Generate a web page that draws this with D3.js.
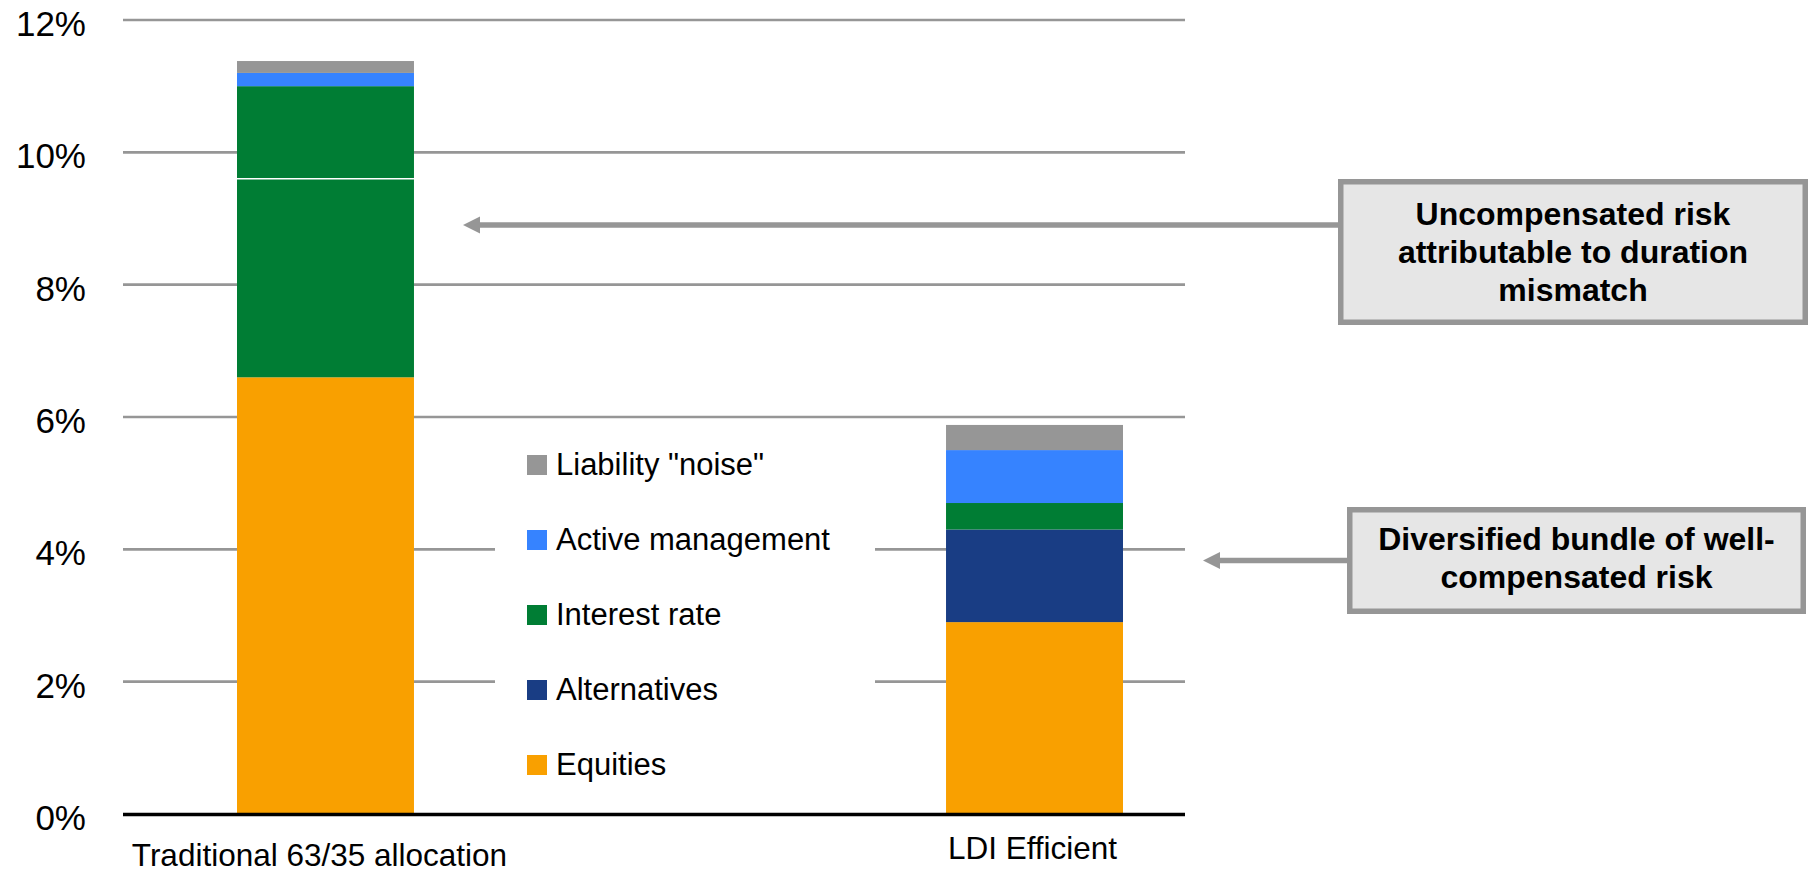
<!DOCTYPE html>
<html>
<head>
<meta charset="utf-8">
<script src="https://cdn.jsdelivr.net/npm/d3@7/dist/d3.min.js"></script>
<style>
  html, body { margin: 0; padding: 0; background: #ffffff; }
  svg { display: block; }
  text { font-family: Arial, "Liberation Sans", sans-serif; fill: #000; }
</style>
</head>
<body>
<script>
// Risk decomposition by portfolio (annualised volatility, %)
const categories = ["Traditional 63/35 allocation", "LDI Efficient"];
const equities = [6.6, 2.9];
const alternatives = [0, 1.4];
const durationMismatch = [3.0, 0];   // interest-rate risk from the duration gap
const interestRate = [1.4, 0.4];
const activeManagement = [0.2, 0.8];
const liabilityNoise = [0.18, 0.38];
const yTicks = [0, 2, 4, 6, 8, 10, 12];

const legendLabels = ['Liability "noise"', "Active management", "Interest rate", "Alternatives", "Equities"];
const noteTop = ["Uncompensated risk", "attributable to duration", "mismatch"];
const noteBottom = ["Diversified bundle of well-", "compensated risk"];
const noteTopLevel = 8.9;     // arrow target (%), bar 1
const noteBottomLevel = 3.83; // arrow target (%), bar 2

const colors = {
  equities: "#f9a000",
  alternatives: "#193d84",
  durationMismatch: "#007d34",
  interestRate: "#007d34",
  activeManagement: "#3683ff",
  liabilityNoise: "#969696"
};
const keys = ["equities", "alternatives", "durationMismatch", "interestRate", "activeManagement", "liabilityNoise"];
const series = { equities, alternatives, durationMismatch, interestRate, activeManagement, liabilityNoise };

const W = 1809, H = 874;
const svg = d3.select("body").append("svg").attr("width", W).attr("height", H);

const plotLeft = 123, plotRight = 1185;
const y = d3.scaleLinear().domain([0, 12]).range([814, 20]);
const x = d3.scaleBand().domain(categories).range([237, 1123]).paddingInner(0.7504).paddingOuter(0);

// gridlines
svg.append("g").selectAll("line").data(yTicks.filter(d => d > 0)).join("line")
  .attr("x1", plotLeft).attr("x2", plotRight)
  .attr("y1", d => y(d)).attr("y2", d => y(d))
  .attr("stroke", "#969696").attr("stroke-width", 2.6);

// y tick labels
svg.append("g").selectAll("text").data(yTicks).join("text")
  .attr("x", 86).attr("y", d => y(d) + 16)
  .attr("text-anchor", "end").attr("font-size", 35)
  .text(d => d + "%");

// stacked bars
const rows = categories.map((c, i) => {
  const r = { category: c };
  keys.forEach(k => r[k] = series[k][i]);
  return r;
});
const stacked = d3.stack().keys(keys)(rows);

const barsG = svg.append("g");
stacked.forEach(layer => {
  barsG.append("g").attr("fill", colors[layer.key])
    .selectAll("rect").data(layer).join("rect")
    .attr("x", d => x(d.data.category))
    .attr("width", x.bandwidth())
    .attr("y", d => y(d[1]))
    .attr("height", d => Math.max(0, y(d[0]) - y(d[1])));
});

// thin white divider marking the top of the duration-mismatch block
const dm = stacked.find(l => l.key === "durationMismatch");
barsG.append("g").selectAll("line").data(dm.filter(d => d[1] - d[0] > 0)).join("line")
  .attr("x1", d => x(d.data.category)).attr("x2", d => x(d.data.category) + x.bandwidth())
  .attr("y1", d => y(d[1])).attr("y2", d => y(d[1]))
  .attr("stroke", "#ffffff").attr("stroke-width", 1.4);

// baseline axis
svg.append("line")
  .attr("x1", plotLeft).attr("x2", plotRight)
  .attr("y1", y(0) + 0.5).attr("y2", y(0) + 0.5)
  .attr("stroke", "#000").attr("stroke-width", 3.4);

// category labels
svg.append("g").selectAll("text").data(categories).join("text")
  .attr("x", (d, i) => x(d) + x.bandwidth() / 2 + (i === 0 ? -6 : -2))
  .attr("y", (d, i) => i === 0 ? 866 : 859)
  .attr("text-anchor", "middle").attr("font-size", 31.5)
  .text(d => d);

// legend (white panel interrupts the gridlines)
const lg = svg.append("g");
lg.append("rect").attr("x", 495).attr("y", 430).attr("width", 380).attr("height", 360).attr("fill", "#fff");
const legendColors = [colors.liabilityNoise, colors.activeManagement, colors.interestRate, colors.alternatives, colors.equities];
const li = lg.selectAll("g.item").data(legendLabels).join("g").attr("class", "item")
  .attr("transform", (d, i) => `translate(527, ${455 + i * 75})`);
li.append("rect").attr("width", 20).attr("height", 20).attr("fill", (d, i) => legendColors[i]);
li.append("text").attr("x", 29).attr("y", 20).attr("font-size", 31).text(d => d);

// annotation boxes with arrows
function note(box, lines, baseline0, tipX, tipY) {
  const g = svg.append("g");
  const grey = "#969696";
  // shaft
  g.append("line").attr("x1", box.x).attr("x2", tipX + 16)
    .attr("y1", tipY).attr("y2", tipY)
    .attr("stroke", grey).attr("stroke-width", 5.5);
  // head
  g.append("path")
    .attr("d", `M${tipX},${tipY} L${tipX + 17},${tipY - 8.5} L${tipX + 17},${tipY + 8.5} Z`)
    .attr("fill", grey);
  g.append("rect")
    .attr("x", box.x + 2.75).attr("y", box.y + 2.75)
    .attr("width", box.w - 5.5).attr("height", box.h - 5.5)
    .attr("fill", "#e6e6e6").attr("stroke", grey).attr("stroke-width", 5.5);
  g.append("g").selectAll("text").data(lines).join("text")
    .attr("x", box.x + box.w / 2).attr("y", (d, i) => baseline0 + i * 38)
    .attr("text-anchor", "middle").attr("font-size", 32).attr("font-weight", "bold")
    .text(d => d);
}

note({ x: 1338, y: 179, w: 470, h: 146 }, noteTop, 225,
     x(categories[0]) + x.bandwidth() + 49, y(noteTopLevel));
note({ x: 1347, y: 507, w: 459, h: 107 }, noteBottom, 550,
     x(categories[1]) + x.bandwidth() + 80, y(noteBottomLevel));
</script>
</body>
</html>
